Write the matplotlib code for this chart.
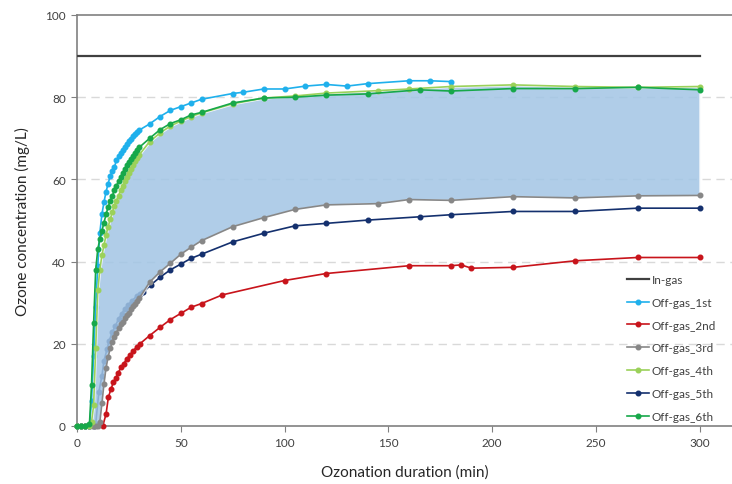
import numpy as np
import matplotlib
matplotlib.use("Agg")
import matplotlib.pyplot as plt

# ---- data ----
in_gas_t = [0, 300]
in_gas_c = [90, 90]

t1 = [0, 2, 4, 6, 7, 8, 9, 10, 11, 12, 13, 14, 15, 16, 17, 18, 19, 20, 21, 22, 23, 24, 25,
      26, 27, 28, 29, 30, 35, 40, 45, 50, 55, 60, 75, 80, 90, 100, 110, 120, 130, 140, 160, 170, 180]
off1 = [0, 0, 0, 0, 6, 17, 29, 39, 47, 51.5, 54.5, 57, 59, 60.8, 62, 63, 64.6, 65.6, 66.5, 67.2,
        68, 68.6, 69.3, 69.8, 70.5, 71.1, 71.5, 72, 73.5, 75.3, 76.8, 77.7, 78.6, 79.5, 80.9, 81.2,
        82.0, 82.0, 82.7, 83.1, 82.7, 83.3, 84.0, 84.0, 83.8]

t2 = [12.4, 14, 15.1, 16.4, 17.5, 18.8, 19.9, 21.2, 22.6, 23.9, 25.5, 27.1, 28.7, 30.3, 35, 40,
      45, 50, 55, 60, 70, 100, 120, 160, 180, 185, 190, 210, 240, 270, 300]
off2 = [0, 2.9, 7.0, 9.0, 10.6, 11.8, 13.0, 14.3, 15.2, 16.3, 17.3, 18.3, 19.2, 20.0, 22.0, 24.0,
        25.9, 27.4, 28.9, 29.8, 31.9, 35.4, 37.1, 39.0, 39.0, 39.2, 38.4, 38.6, 40.2, 41.0, 41.0]

# 3rd and 4th runs share the same sampling times
t34 = [0, 2, 4, 6, 7, 8, 9, 10, 11, 12, 13, 14, 15, 16, 17, 18, 19, 20, 21, 22, 23, 24, 25, 26,
       27, 28, 29, 30, 35, 40, 45, 50, 55, 60, 75, 90, 105, 120, 145, 160, 180, 210, 240, 270, 300]
off3 = [0, 0, 0, 0, 0, 0, 0, 0, 1, 5.5, 10.3, 14.2, 16.8, 18.9, 20.4, 21.7, 22.7, 23.8, 24.8, 25.4,
        26.2, 26.9, 27.6, 28.4, 29.1, 29.8, 30.5, 31.1, 35.0, 37.5, 39.6, 41.8, 43.5, 45.1, 48.5,
        50.7, 52.7, 53.8, 54.1, 55.1, 54.9, 55.8, 55.5, 56.0, 56.1]
off4 = [0, 0, 0, 0, 1, 5, 19, 33, 38, 41.5, 44, 46.5, 48.5, 50.3, 52, 53.5, 54.8, 56, 57.3, 58.5,
        59.6, 60.6, 61.6, 62.6, 63.5, 64.4, 65.2, 66, 69.2, 71.3, 73, 74.2, 75.3, 76.2, 78.4, 79.8,
        80.3, 81.0, 81.6, 82.0, 82.6, 83.0, 82.6, 82.4, 82.6]

t5 = [0, 2, 4, 6, 8, 9, 10.5, 12, 13, 14.5, 15.5, 17, 18.5, 20, 21.5, 23, 24.5, 26.5, 29, 30.5,
      32, 35.5, 40, 45, 50, 55, 60, 75, 90, 105, 120, 140, 165, 180, 210, 240, 270, 300]
off5 = [0, 0, 0, 0, 0, 0.5, 8.2, 12.2, 15.9, 18.7, 20.8, 22.8, 24.4, 26.0, 27.3, 28.5, 29.4, 30.5,
        31.7, 32.0, 32.6, 34.3, 36.2, 38.0, 39.4, 40.8, 41.8, 44.8, 46.9, 48.7, 49.3, 50.1, 50.9,
        51.4, 52.2, 52.2, 53.0, 53.0]

t6 = [0, 2, 4, 6, 7, 8, 9, 10, 11, 12, 13, 14, 15, 16, 17, 18, 19, 20, 21, 22, 23, 24, 25, 26,
      27, 28, 29, 30, 35, 40, 45, 50, 55, 60, 75, 90, 105, 120, 140, 165, 180, 210, 240, 270, 300]
off6 = [0, 0, 0, 0.5, 10, 25, 38, 43, 45.5, 47.5, 49.5, 51.5, 53.3, 54.8, 56, 57.3, 58.5, 59.5,
        60.5, 61.6, 62.6, 63.4, 64.3, 65, 65.8, 66.5, 67.2, 67.8, 70, 72.1, 73.6, 74.5, 75.7, 76.3,
        78.6, 79.8, 80.0, 80.5, 80.8, 81.8, 81.5, 82.1, 82.1, 82.4, 81.8]

x_ticks = [0, 50, 100, 150, 200, 250, 300]
y_ticks = [0, 20, 40, 60, 80, 100]

plt.rcParams['font.family'] = ['Lato', 'DejaVu Sans']

fig = plt.figure(figsize=(7.32, 4.85), dpi=100)
ax = fig.add_axes([77/732, 58/485, 655/732, 411/485])

# band between the 4th and 3rd runs
ax.fill_between(t34, off3, off4, facecolor='#A2C5E5', alpha=0.85,
                edgecolor='white', linewidth=1.5, zorder=3)

ax.plot(in_gas_t, in_gas_c, color='#404040', lw=1.6, label='In-gas', zorder=5)

mk = dict(marker='o', markersize=3.3, lw=1.2, clip_on=False)
ax.plot(t1, off1, color='#1FB0EC', label='Off-gas_1st', zorder=2, **mk)
ax.plot(t2, off2, color='#C8141B', label='Off-gas_2nd', zorder=4, **mk)
ax.plot(t34, off3, color='#878787', label='Off-gas_3rd', zorder=4, **mk)
ax.plot(t34, off4, color='#9BD15A', label='Off-gas_4th', zorder=4, **mk)
ax.plot(t5, off5, color='#14306E', label='Off-gas_5th', zorder=2, **mk)
ax.plot(t6, off6, color='#17A84A', label='Off-gas_6th', zorder=4, **mk)

ax.set_xlim(0, 315.5)
ax.set_ylim(0, 100)
ax.set_xticks(x_ticks)
ax.set_yticks(y_ticks)
for y in y_ticks[1:-1]:
    ax.axhline(y, color='#D9D9D9', lw=1, ls=(0, (6, 4)), zorder=0)

for s in ['right']:
    ax.spines[s].set_visible(False)
for s in ['left', 'bottom', 'top']:
    ax.spines[s].set_color('#808080')
    ax.spines[s].set_linewidth(1.2)
ax.tick_params(axis='both', direction='out', length=4, color='#808080',
               labelsize=8.5, labelcolor='#404040', pad=4)

ax.set_xlabel('Ozonation duration (min)', fontsize=11, color='#262626', labelpad=12)
ax.set_ylabel('Ozone concentration (mg/L)', fontsize=11, color='#262626', labelpad=11)

leg = ax.legend(loc='upper left', bbox_to_anchor=(627/732, 1 - 275/485),
                bbox_transform=fig.transFigure, frameon=False, fontsize=8.5,
                handlelength=1.9, handletextpad=0.2, labelspacing=1.0,
                borderaxespad=0, borderpad=0)
for txt in leg.get_texts():
    txt.set_color('#404040')

fig.savefig('out.png', dpi=100)
